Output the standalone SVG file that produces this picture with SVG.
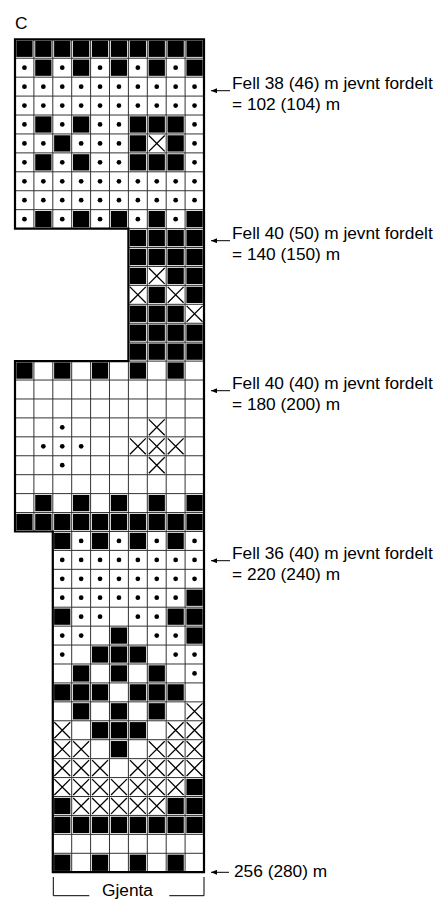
<svg xmlns="http://www.w3.org/2000/svg" xmlns:xlink="http://www.w3.org/1999/xlink" width="445" height="905" viewBox="0 0 445 905">
<style>
text{font-family:"Liberation Sans",Arial,sans-serif;font-size:17.3px;fill:#000}
.g{fill:none;stroke:#333;stroke-width:1;vector-effect:non-scaling-stroke}
.o{fill:none;stroke:#000;stroke-width:2.2;vector-effect:non-scaling-stroke}
.xs{fill:none;stroke:#000;stroke-width:1.3;vector-effect:non-scaling-stroke}
.ln{fill:none;stroke:#000;stroke-width:1}
</style>
<defs>
<rect id="B" x="0.07" y="0.07" width="0.86" height="0.86" fill="#000"/>
<circle id="D" cx="0.5" cy="0.5" r="0.125" fill="#000"/>
<path id="X" class="xs" d="M0.08 0.08L0.92 0.92M0.92 0.08L0.08 0.92"/>
<marker id="ah" viewBox="0 0 6 5" refX="0" refY="2.5" markerWidth="6" markerHeight="5" orient="auto" markerUnits="userSpaceOnUse"><path d="M0 2.5L6 0L6 5Z" fill="#000"/></marker>
</defs>
<rect width="445" height="905" fill="#fff"/>
<g id="title"><text x="15" y="29">C</text></g>
<g id="chart" transform="translate(15,39.3) scale(18.9,18.93)">
<g id="grid">
<path class="g" d="M0 1H10M0 2H10M0 3H10M0 4H10M0 5H10M0 6H10M0 7H10M0 8H10M0 9H10M1 0V10M2 0V10M3 0V10M4 0V10M5 0V10M6 0V10M7 0V10M8 0V10M9 0V10"/>
<path class="g" d="M6 10H10M6 11H10M6 12H10M6 13H10M6 14H10M6 15H10M6 16H10M6 17H10M7 10V17M8 10V17M9 10V17"/>
<path class="g" d="M0 18H10M0 19H10M0 20H10M0 21H10M0 22H10M0 23H10M0 24H10M0 25H10M2 26H10M1 17V26M2 17V26M3 17V26M4 17V26M5 17V26M6 17V26M7 17V26M8 17V26M9 17V26"/>
<path class="g" d="M2 27H10M2 28H10M2 29H10M2 30H10M2 31H10M2 32H10M2 33H10M2 34H10M2 35H10M2 36H10M2 37H10M2 38H10M2 39H10M2 40H10M2 41H10M2 42H10M2 43H10M3 26V44M4 26V44M5 26V44M6 26V44M7 26V44M8 26V44M9 26V44"/>
</g>
<g id="section1">
<use href="#B" x="0" y="0"/><use href="#B" x="1" y="0"/><use href="#B" x="2" y="0"/><use href="#B" x="3" y="0"/><use href="#B" x="4" y="0"/><use href="#B" x="5" y="0"/><use href="#B" x="6" y="0"/><use href="#B" x="7" y="0"/><use href="#B" x="8" y="0"/><use href="#B" x="9" y="0"/>
<use href="#D" x="0" y="1"/><use href="#B" x="1" y="1"/><use href="#D" x="2" y="1"/><use href="#B" x="3" y="1"/><use href="#D" x="4" y="1"/><use href="#B" x="5" y="1"/><use href="#D" x="6" y="1"/><use href="#B" x="7" y="1"/><use href="#D" x="8" y="1"/><use href="#B" x="9" y="1"/>
<use href="#D" x="0" y="2"/><use href="#D" x="1" y="2"/><use href="#D" x="2" y="2"/><use href="#D" x="3" y="2"/><use href="#D" x="4" y="2"/><use href="#D" x="5" y="2"/><use href="#D" x="6" y="2"/><use href="#D" x="7" y="2"/><use href="#D" x="8" y="2"/><use href="#D" x="9" y="2"/>
<use href="#D" x="0" y="3"/><use href="#D" x="1" y="3"/><use href="#D" x="2" y="3"/><use href="#D" x="3" y="3"/><use href="#D" x="4" y="3"/><use href="#D" x="5" y="3"/><use href="#D" x="6" y="3"/><use href="#D" x="7" y="3"/><use href="#D" x="8" y="3"/><use href="#D" x="9" y="3"/>
<use href="#D" x="0" y="4"/><use href="#B" x="1" y="4"/><use href="#D" x="2" y="4"/><use href="#B" x="3" y="4"/><use href="#D" x="4" y="4"/><use href="#D" x="5" y="4"/><use href="#B" x="6" y="4"/><use href="#B" x="7" y="4"/><use href="#B" x="8" y="4"/><use href="#D" x="9" y="4"/>
<use href="#D" x="0" y="5"/><use href="#D" x="1" y="5"/><use href="#B" x="2" y="5"/><use href="#D" x="3" y="5"/><use href="#D" x="4" y="5"/><use href="#D" x="5" y="5"/><use href="#B" x="6" y="5"/><use href="#X" x="7" y="5"/><use href="#B" x="8" y="5"/><use href="#D" x="9" y="5"/>
<use href="#D" x="0" y="6"/><use href="#B" x="1" y="6"/><use href="#D" x="2" y="6"/><use href="#B" x="3" y="6"/><use href="#D" x="4" y="6"/><use href="#D" x="5" y="6"/><use href="#B" x="6" y="6"/><use href="#B" x="7" y="6"/><use href="#B" x="8" y="6"/><use href="#D" x="9" y="6"/>
<use href="#D" x="0" y="7"/><use href="#D" x="1" y="7"/><use href="#D" x="2" y="7"/><use href="#D" x="3" y="7"/><use href="#D" x="4" y="7"/><use href="#D" x="5" y="7"/><use href="#D" x="6" y="7"/><use href="#D" x="7" y="7"/><use href="#D" x="8" y="7"/><use href="#D" x="9" y="7"/>
<use href="#D" x="0" y="8"/><use href="#D" x="1" y="8"/><use href="#D" x="2" y="8"/><use href="#D" x="3" y="8"/><use href="#D" x="4" y="8"/><use href="#D" x="5" y="8"/><use href="#D" x="6" y="8"/><use href="#D" x="7" y="8"/><use href="#D" x="8" y="8"/><use href="#D" x="9" y="8"/>
<use href="#D" x="0" y="9"/><use href="#B" x="1" y="9"/><use href="#D" x="2" y="9"/><use href="#B" x="3" y="9"/><use href="#D" x="4" y="9"/><use href="#B" x="5" y="9"/><use href="#D" x="6" y="9"/><use href="#B" x="7" y="9"/><use href="#D" x="8" y="9"/><use href="#B" x="9" y="9"/>
</g>
<g id="section2">
<use href="#B" x="6" y="10"/><use href="#B" x="7" y="10"/><use href="#B" x="8" y="10"/><use href="#B" x="9" y="10"/>
<use href="#B" x="6" y="11"/><use href="#B" x="7" y="11"/><use href="#B" x="8" y="11"/><use href="#B" x="9" y="11"/>
<use href="#B" x="6" y="12"/><use href="#X" x="7" y="12"/><use href="#B" x="8" y="12"/><use href="#B" x="9" y="12"/>
<use href="#X" x="6" y="13"/><use href="#B" x="7" y="13"/><use href="#X" x="8" y="13"/><use href="#B" x="9" y="13"/>
<use href="#B" x="6" y="14"/><use href="#B" x="7" y="14"/><use href="#B" x="8" y="14"/><use href="#X" x="9" y="14"/>
<use href="#B" x="6" y="15"/><use href="#B" x="7" y="15"/><use href="#B" x="8" y="15"/><use href="#B" x="9" y="15"/>
<use href="#B" x="6" y="16"/><use href="#B" x="7" y="16"/><use href="#B" x="8" y="16"/><use href="#B" x="9" y="16"/>
</g>
<g id="section3">
<use href="#B" x="0" y="17"/><use href="#B" x="2" y="17"/><use href="#B" x="4" y="17"/><use href="#B" x="6" y="17"/><use href="#B" x="8" y="17"/>
<use href="#D" x="2" y="20"/><use href="#X" x="7" y="20"/>
<use href="#D" x="1" y="21"/><use href="#D" x="2" y="21"/><use href="#D" x="3" y="21"/><use href="#X" x="6" y="21"/><use href="#X" x="7" y="21"/><use href="#X" x="8" y="21"/>
<use href="#D" x="2" y="22"/><use href="#X" x="7" y="22"/>
<use href="#B" x="1" y="24"/><use href="#B" x="3" y="24"/><use href="#B" x="5" y="24"/><use href="#B" x="7" y="24"/><use href="#B" x="9" y="24"/>
<use href="#B" x="0" y="25"/><use href="#B" x="1" y="25"/><use href="#B" x="2" y="25"/><use href="#B" x="3" y="25"/><use href="#B" x="4" y="25"/><use href="#B" x="5" y="25"/><use href="#B" x="6" y="25"/><use href="#B" x="7" y="25"/><use href="#B" x="8" y="25"/><use href="#B" x="9" y="25"/>
</g>
<g id="section4">
<use href="#B" x="2" y="26"/><use href="#D" x="3" y="26"/><use href="#B" x="4" y="26"/><use href="#D" x="5" y="26"/><use href="#B" x="6" y="26"/><use href="#D" x="7" y="26"/><use href="#B" x="8" y="26"/><use href="#D" x="9" y="26"/>
<use href="#D" x="2" y="27"/><use href="#D" x="3" y="27"/><use href="#D" x="4" y="27"/><use href="#D" x="5" y="27"/><use href="#D" x="6" y="27"/><use href="#D" x="7" y="27"/><use href="#D" x="8" y="27"/><use href="#D" x="9" y="27"/>
<use href="#D" x="2" y="28"/><use href="#D" x="3" y="28"/><use href="#D" x="4" y="28"/><use href="#D" x="5" y="28"/><use href="#D" x="6" y="28"/><use href="#D" x="7" y="28"/><use href="#D" x="8" y="28"/><use href="#D" x="9" y="28"/>
<use href="#D" x="2" y="29"/><use href="#D" x="3" y="29"/><use href="#D" x="4" y="29"/><use href="#D" x="5" y="29"/><use href="#D" x="6" y="29"/><use href="#D" x="7" y="29"/><use href="#D" x="8" y="29"/><use href="#B" x="9" y="29"/>
<use href="#B" x="2" y="30"/><use href="#D" x="3" y="30"/><use href="#D" x="4" y="30"/><use href="#D" x="6" y="30"/><use href="#D" x="7" y="30"/><use href="#B" x="8" y="30"/><use href="#B" x="9" y="30"/>
<use href="#D" x="2" y="31"/><use href="#D" x="3" y="31"/><use href="#B" x="5" y="31"/><use href="#D" x="7" y="31"/><use href="#D" x="8" y="31"/><use href="#B" x="9" y="31"/>
<use href="#D" x="2" y="32"/><use href="#B" x="4" y="32"/><use href="#B" x="5" y="32"/><use href="#B" x="6" y="32"/><use href="#D" x="8" y="32"/><use href="#D" x="9" y="32"/>
<use href="#B" x="3" y="33"/><use href="#B" x="5" y="33"/><use href="#B" x="7" y="33"/><use href="#D" x="9" y="33"/>
<use href="#B" x="2" y="34"/><use href="#B" x="3" y="34"/><use href="#B" x="4" y="34"/><use href="#B" x="6" y="34"/><use href="#B" x="7" y="34"/><use href="#B" x="8" y="34"/>
<use href="#B" x="3" y="35"/><use href="#B" x="5" y="35"/><use href="#B" x="7" y="35"/><use href="#X" x="9" y="35"/>
<use href="#X" x="2" y="36"/><use href="#B" x="4" y="36"/><use href="#B" x="5" y="36"/><use href="#B" x="6" y="36"/><use href="#X" x="8" y="36"/><use href="#X" x="9" y="36"/>
<use href="#X" x="2" y="37"/><use href="#X" x="3" y="37"/><use href="#B" x="5" y="37"/><use href="#X" x="7" y="37"/><use href="#X" x="8" y="37"/><use href="#X" x="9" y="37"/>
<use href="#X" x="2" y="38"/><use href="#X" x="3" y="38"/><use href="#X" x="4" y="38"/><use href="#X" x="6" y="38"/><use href="#X" x="7" y="38"/><use href="#X" x="8" y="38"/><use href="#X" x="9" y="38"/>
<use href="#X" x="2" y="39"/><use href="#X" x="3" y="39"/><use href="#X" x="4" y="39"/><use href="#X" x="5" y="39"/><use href="#X" x="6" y="39"/><use href="#X" x="7" y="39"/><use href="#X" x="8" y="39"/><use href="#B" x="9" y="39"/>
<use href="#B" x="2" y="40"/><use href="#X" x="3" y="40"/><use href="#X" x="4" y="40"/><use href="#X" x="5" y="40"/><use href="#X" x="6" y="40"/><use href="#X" x="7" y="40"/><use href="#B" x="8" y="40"/><use href="#B" x="9" y="40"/>
<use href="#B" x="2" y="41"/><use href="#B" x="3" y="41"/><use href="#B" x="4" y="41"/><use href="#B" x="5" y="41"/><use href="#B" x="6" y="41"/><use href="#B" x="7" y="41"/><use href="#B" x="8" y="41"/><use href="#B" x="9" y="41"/>
<use href="#B" x="2" y="43"/><use href="#B" x="4" y="43"/><use href="#B" x="6" y="43"/><use href="#B" x="8" y="43"/>
</g>
<path id="outline" class="o" d="M0 0H10V44H2V26H0V17H6V10H0Z"/>
</g>
<g id="connectors">
<line class="ln" x1="211" y1="90.7" x2="230" y2="90.7" marker-start="url(#ah)"/>
<line class="ln" x1="211" y1="240.7" x2="230" y2="240.7" marker-start="url(#ah)"/>
<line class="ln" x1="211" y1="390.7" x2="230" y2="390.7" marker-start="url(#ah)"/>
<line class="ln" x1="211" y1="560.7" x2="230" y2="560.7" marker-start="url(#ah)"/>
<line class="ln" x1="211" y1="872.3" x2="229" y2="872.3" marker-start="url(#ah)"/>
</g>
<g id="label1"><text x="232" y="89">Fell 38 (46) m jevnt fordelt</text><text x="232" y="110">= 102 (104) m</text></g>
<g id="label2"><text x="232" y="239">Fell 40 (50) m jevnt fordelt</text><text x="232" y="260">= 140 (150) m</text></g>
<g id="label3"><text x="232" y="389">Fell 40 (40) m jevnt fordelt</text><text x="232" y="410">= 180 (200) m</text></g>
<g id="label4"><text x="232" y="559">Fell 36 (40) m jevnt fordelt</text><text x="232" y="580">= 220 (240) m</text></g>
<g id="label5"><text x="234" y="877">256 (280) m</text></g>
<g id="repeat">
<path class="ln" d="M53.3 877V895.7H89.3M169.3 895.7H204V877"/>
<text x="127.5" y="895.5" text-anchor="middle">Gjenta</text>
</g>
</svg>
